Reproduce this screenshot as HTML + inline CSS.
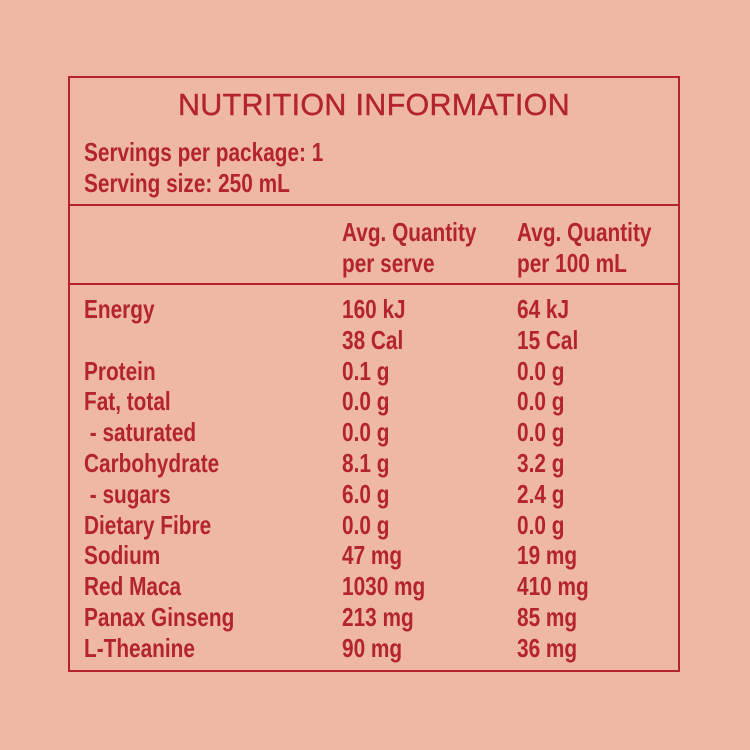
<!DOCTYPE html>
<html><head><style>
html,body{margin:0;padding:0;}
body{width:750px;height:750px;background:#efb8a5;position:relative;overflow:hidden;font-family:"Liberation Sans",sans-serif;color:#b3242c;}
.box{position:absolute;left:68px;top:76px;width:608px;height:592px;border:2px solid #b3242c;}
.hl{position:absolute;left:68px;width:612px;height:2px;background:#b3242c;}
.t{position:absolute;font-size:26px;font-weight:bold;line-height:30.8px;white-space:pre;transform:scaleX(0.8);transform-origin:left;}
.title{position:absolute;left:68px;width:612px;top:87px;text-align:center;font-size:30.5px;letter-spacing:0.3px;line-height:36px;-webkit-text-stroke:0.4px #b3242c;}
</style></head><body>
<div class="box"></div>
<div class="hl" style="top:204px"></div>
<div class="hl" style="top:283px"></div>
<div class="title">NUTRITION INFORMATION</div>
<div class="t" style="left:84px;top:137px">Servings per package: 1
Serving size: 250 mL</div>
<div class="t" style="left:342px;top:217px">Avg. Quantity
per serve</div>
<div class="t" style="left:517px;top:217px">Avg. Quantity
per 100 mL</div>
<div class="t" style="left:84px;top:294px">Energy

Protein
Fat, total
 - saturated
Carbohydrate
 - sugars
Dietary Fibre
Sodium
Red Maca
Panax Ginseng
L-Theanine</div>
<div class="t" style="left:342px;top:294px">160 kJ
38 Cal
0.1 g
0.0 g
0.0 g
8.1 g
6.0 g
0.0 g
47 mg
1030 mg
213 mg
90 mg</div>
<div class="t" style="left:517px;top:294px">64 kJ
15 Cal
0.0 g
0.0 g
0.0 g
3.2 g
2.4 g
0.0 g
19 mg
410 mg
85 mg
36 mg</div>
</body></html>
